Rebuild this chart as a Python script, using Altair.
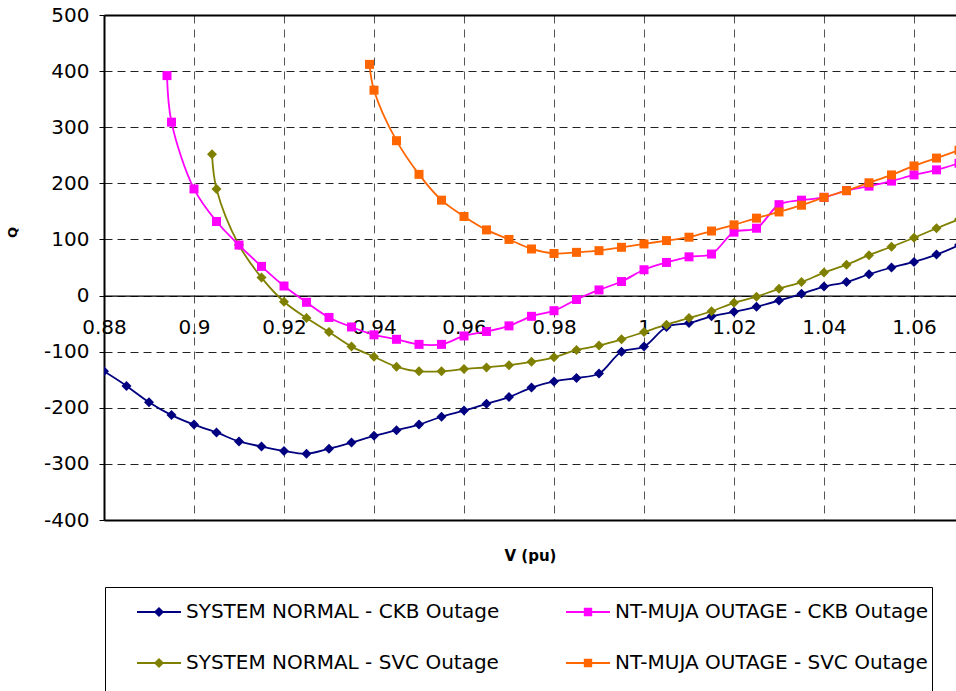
import altair as alt
import pandas as pd

# Q-V curves for four operating cases (legend order: column by column)
series_names = [
    "SYSTEM NORMAL - CKB Outage",
    "SYSTEM NORMAL - SVC Outage",
    "NT-MUJA OUTAGE - CKB Outage",
    "NT-MUJA OUTAGE - SVC Outage",
]
series_colors = ["#000080", "#808000", "#FF00FF", "#FF6600"]

normal_ckb_v = [0.88, 0.885, 0.89, 0.895, 0.9, 0.905, 0.91, 0.915, 0.92, 0.925,
                0.93, 0.935, 0.94, 0.945, 0.95, 0.955, 0.96, 0.965, 0.97, 0.975,
                0.98, 0.985, 0.99, 0.995, 1.0, 1.005, 1.01, 1.015, 1.02, 1.025,
                1.03, 1.035, 1.04, 1.045, 1.05, 1.055, 1.06, 1.065, 1.07]
normal_ckb_q = [-135, -161, -190, -213, -230, -244, -260, -269, -277, -282,
                -273, -262, -250, -240, -230, -216, -205, -193, -181, -164,
                -153, -147, -139, -100, -91, -56, -49, -37, -29, -20,
                -9, 3, 16, 24, 38, 50, 60, 73, 90]

normal_svc_v = [0.904, 0.905, 0.91, 0.915, 0.92, 0.925, 0.93, 0.935, 0.94, 0.945,
                0.95, 0.955, 0.96, 0.965, 0.97, 0.975, 0.98, 0.985, 0.99, 0.995,
                1.0, 1.005, 1.01, 1.015, 1.02, 1.025, 1.03, 1.035, 1.04, 1.045,
                1.05, 1.055, 1.06, 1.065, 1.07]
normal_svc_q = [252, 190, 90, 32, -11, -40, -65, -91, -109, -127,
                -135, -135, -131, -128, -124, -118, -110, -97, -89, -78,
                -65, -52, -40, -28, -13, -2, 12, 24, 41, 55,
                72, 87, 103, 120, 136]

muja_ckb_v = [0.894, 0.895, 0.9, 0.905, 0.91, 0.915, 0.92, 0.925, 0.93, 0.935,
              0.94, 0.945, 0.95, 0.955, 0.96, 0.965, 0.97, 0.975, 0.98, 0.985,
              0.99, 0.995, 1.0, 1.005, 1.01, 1.015, 1.02, 1.025, 1.03, 1.035,
              1.04, 1.045, 1.05, 1.055, 1.06, 1.065, 1.07]
muja_ckb_q = [392, 309, 190, 132, 90, 52, 17, -12, -39, -56,
              -70, -78, -87, -87, -72, -64, -54, -37, -27, -7,
              10, 25, 46, 59, 69, 74, 113, 120, 162, 170,
              175, 187, 195, 204, 215, 224, 236]

muja_svc_v = [0.939, 0.94, 0.945, 0.95, 0.955, 0.96, 0.965, 0.97, 0.975, 0.98,
              0.985, 0.99, 0.995, 1.0, 1.005, 1.01, 1.015, 1.02, 1.025, 1.03,
              1.035, 1.04, 1.045, 1.05, 1.055, 1.06, 1.065, 1.07]
muja_svc_q = [412, 366, 276, 216, 170, 141, 117, 100, 83, 75,
              77, 80, 86, 92, 98, 104, 115, 126, 138, 149,
              161, 175, 187, 201, 215, 231, 245, 259]

x_ticks = [0.88, 0.9, 0.92, 0.94, 0.96, 0.98, 1.0, 1.02, 1.04, 1.06]
y_ticks = [-400, -300, -200, -100, 0, 100, 200, 300, 400, 500]

frames = []
for name, vs, qs in zip(series_names,
                        [normal_ckb_v, normal_svc_v, muja_ckb_v, muja_svc_v],
                        [normal_ckb_q, normal_svc_q, muja_ckb_q, muja_svc_q]):
    frames.append(pd.DataFrame({"series": name, "V": vs, "Q": qs}))
df = pd.concat(frames, ignore_index=True)

FONT = "DejaVu Sans"
x_scale = alt.Scale(domain=[0.88, 1.06933], nice=False, zero=False)
y_scale = alt.Scale(domain=[-400, 500], nice=False)
color_scale = alt.Scale(domain=series_names, range=series_colors)

# legend glyph: a short line segment with the series marker in its middle
legend_shape = (
    "indexof(datum.value, 'SYSTEM') >= 0 ? "
    "'M-1,-0.045L1,-0.045L1,0.045L-1,0.045ZM0,-0.23L0.23,0L0,0.23L-0.23,0Z' : "
    "'M-1,-0.045L1,-0.045L1,0.045L-1,0.045ZM-0.19,-0.19L0.19,-0.19L0.19,0.19L-0.19,0.19Z'"
)
legend_color = "scale('color', datum.value)"
legend_spacer = "\u00a0" * 150

grid_axis = alt.Axis(
    values=x_ticks, labels=False, ticks=False, domain=False,
    grid=True, gridColor="#555555", gridDash=[8, 6], gridWidth=1,
    title="V (pu)", titleFont=FONT, titleFontSize=15, titleFontWeight="bold",
    titleColor="#000", titleY=35, titleBaseline="middle",
)
label_axis = alt.Axis(
    orient="bottom", offset=-224.4, values=x_ticks, format=".3~f",
    grid=False, ticks=False, tickSize=0, domain=True, domainColor="#000",
    domainWidth=1.2, labelFont=FONT, labelFontSize=20, labelColor="#000",
    labelPadding=22, labelFlush=False, labelOverlap=False, title=None,
)
edge = "datum.value === 500 || datum.value === -400"
y_axis = alt.Axis(
    values=y_ticks, labelExpr="datum.value + ''", grid=True,
    gridColor={"condition": {"test": edge, "value": "#000"}, "value": "#222222"},
    gridDash={"condition": {"test": edge, "value": []}, "value": [8, 5]},
    gridWidth={"condition": {"test": edge, "value": 2}, "value": 1},
    domain=True, domainColor="#000", domainWidth=2,
    ticks=True, tickSize=5, tickColor="#000", tickWidth=1,
    labelFont=FONT, labelFontSize=20, labelColor="#000", labelPadding=10,
    title="Q", titleFont=FONT, titleFontSize=13, titleFontWeight="bold",
    titleColor="#000", titleAngle=270, titleX=-92, titleY=217,
    titleAlign="center", titleBaseline="middle",
)

base = alt.Chart(df)

lines = base.mark_line(
    interpolate="catmull-rom", strokeWidth=1.8, clip=True
).encode(
    x=alt.X("V:Q", scale=x_scale, axis=grid_axis),
    y=alt.Y("Q:Q", scale=y_scale, axis=y_axis),
    color=alt.Color(
        "series:N", scale=color_scale, sort=series_names,
        legend=alt.Legend(
            orient="none", legendX=1, legendY=572, columns=2,
            title=legend_spacer, titleOrient="bottom", titleAnchor="start",
            titleFontSize=20, titleLimit=3000, titlePadding=6,
            labelFont=FONT, labelFontSize=20, labelColor="#000", labelLimit=600,
            labelOffset=5, symbolSize=1936, symbolStrokeWidth=0,
            symbolType={"expr": legend_shape},
            symbolFillColor={"expr": legend_color},
            symbolStrokeColor={"expr": legend_color},
            symbolOffset=29, padding=3, rowPadding=19, columnPadding=37,
            strokeColor="#000",
        ),
    ),
    detail="series:N",
)

# diamond markers for the system-normal cases, squares for the NT-MUJA outage
diamonds = base.transform_filter(
    alt.FieldOneOfPredicate(field="series", oneOf=series_names[:2])
).mark_point(shape="diamond", size=100, filled=True, opacity=1, clip=True).encode(
    x=alt.X("V:Q", scale=x_scale, axis=label_axis),
    y=alt.Y("Q:Q", scale=y_scale),
    color=alt.Color("series:N", scale=color_scale, legend=None),
)
squares = base.transform_filter(
    alt.FieldOneOfPredicate(field="series", oneOf=series_names[2:])
).mark_point(shape="square", size=81, filled=True, opacity=1, clip=True).encode(
    x=alt.X("V:Q", scale=x_scale, axis=None),
    y=alt.Y("Q:Q", scale=y_scale),
    color=alt.Color("series:N", scale=color_scale, legend=None),
)

chart = alt.layer(lines, diamonds, squares).resolve_axis(x="independent").properties(
    width=852, height=505,
    autosize=alt.AutoSizeParams(type="none"),
    padding={"left": 104, "top": 15, "right": 0, "bottom": 171},
    background="white",
).configure_view(stroke=None)

chart.save("out.html", embed_options={"renderer": "svg", "actions": False})
